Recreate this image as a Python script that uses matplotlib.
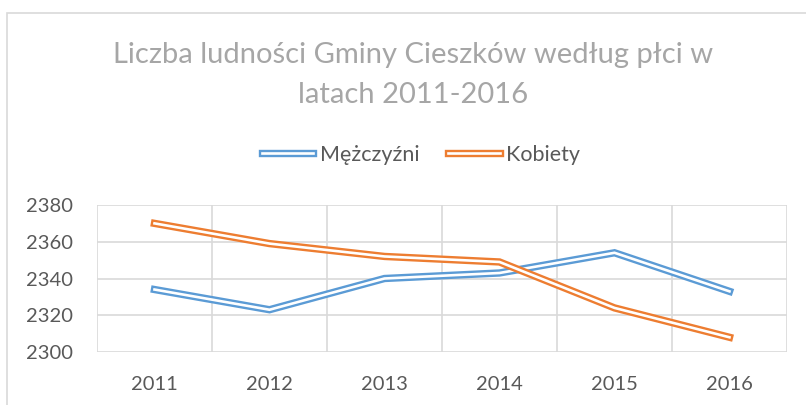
import matplotlib
matplotlib.use('Agg')
import matplotlib.pyplot as plt
import matplotlib.patheffects as pe
from matplotlib.patches import Rectangle
import numpy as np

plt.rcParams['font.family'] = ['Lato', 'DejaVu Sans']

# data
years = ['2011', '2012', '2013', '2014', '2015', '2016']
mezczyzni = [2334, 2323, 2340, 2343, 2354, 2333]
kobiety = [2370, 2359, 2352, 2349, 2324, 2308]
y_ticks = [2300, 2320, 2340, 2360, 2380]

blue = '#5b9bd5'
orange = '#ed7d31'
grid_c = '#d9d9d9'
text_c = '#595959'

W, H = 806, 405
fig = plt.figure(figsize=(W / 100, H / 100), dpi=100)

# outer chart border (cut off at right and bottom like the source)
fig.patches.append(Rectangle((7 / W, -0.1), 1.2, 1 - 13 / H + 0.1,
                             transform=fig.transFigure, fill=False,
                             edgecolor=grid_c, linewidth=1.2))

ax = fig.add_axes([97 / W, 1 - 352 / H, (787 - 97) / W, (352 - 205) / H])

x = np.arange(len(years))


def double(color):
    # excel style compound line: coloured outer stroke, white core
    return [pe.Stroke(linewidth=5.3, foreground=color), pe.Normal()]


ax.plot(x, mezczyzni, color='white', linewidth=1.9, label='Mężczyźni',
        path_effects=double(blue), solid_joinstyle='miter', zorder=3)
ax.plot(x, kobiety, color='white', linewidth=1.9, label='Kobiety',
        path_effects=double(orange), solid_joinstyle='miter', zorder=4)

ax.set_xlim(-0.5, len(years) - 0.5)
ax.set_ylim(2300, 2380)
ax.set_yticks(y_ticks)
ax.set_xticks(x)
ax.set_xticklabels(years)
ax.set_xticks(np.arange(-0.5, len(years), 1), minor=True)

ax.grid(True, which='major', axis='y', color=grid_c, linewidth=1.2)
ax.grid(True, which='minor', axis='x', color=grid_c, linewidth=1.2)
ax.set_axisbelow(True)
for s in ax.spines.values():
    s.set_visible(False)
ax.tick_params(which='both', length=0, labelsize=14.5, colors=text_c)
ax.tick_params(axis='y', pad=17)
ax.tick_params(axis='x', pad=17)

fig.text(413 / W, 1 - 63 / H, 'Liczba ludności Gminy Cieszków według płci w',
         ha='center', va='baseline', fontsize=21, color='#a6a6a6')
fig.text(413 / W, 1 - 103 / H, 'latach 2011-2016',
         ha='center', va='baseline', fontsize=21, color='#a6a6a6')

fig.legend(loc='center', bbox_to_anchor=(421 / W, 1 - 155 / H), ncol=2,
           frameon=False, fontsize=15.5, handlelength=2.4, handletextpad=0.3,
           columnspacing=1.35, labelcolor=text_c)

fig.savefig('out.png', dpi=100)
